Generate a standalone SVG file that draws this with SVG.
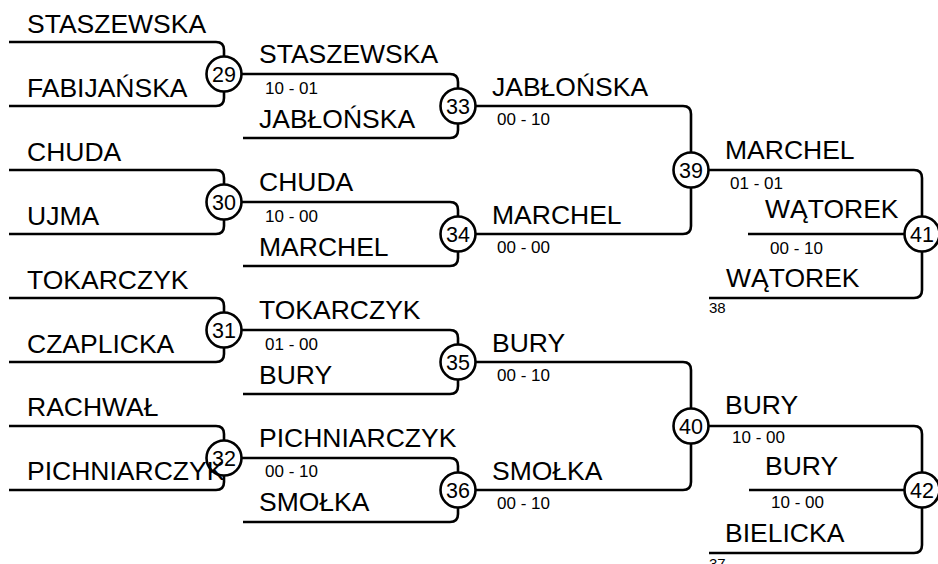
<svg xmlns="http://www.w3.org/2000/svg" width="938" height="564" viewBox="0 0 938 564">
<style>
.c{fill:none;stroke:#000;stroke-width:2.6;stroke-linejoin:round}
.m circle{fill:#fff;stroke:#000;stroke-width:2.6}
.m text{font-family:"Liberation Sans",Arial,sans-serif;font-size:21.5px;text-anchor:middle;fill:#000}
.n{font-family:"Liberation Sans",Arial,sans-serif;font-size:26.5px;fill:#000}
.s{font-family:"Liberation Sans",Arial,sans-serif;font-size:17px;fill:#000}
.t{font-family:"Liberation Sans",Arial,sans-serif;font-size:15px;fill:#000}
</style>
<rect width="938" height="564" fill="#fff"/>
<g id="connectors">
<path class="c" d="M9,42 H216 Q224,42 224,50 V98 Q224,106 216,106 H9"/>
<path class="c" d="M9,170 H216 Q224,170 224,178 V226 Q224,234 216,234 H9"/>
<path class="c" d="M9,298 H216 Q224,298 224,306 V354 Q224,362 216,362 H9"/>
<path class="c" d="M9,426 H216 Q224,426 224,434 V482 Q224,490 216,490 H9"/>
<path class="c" d="M224,74 H450 Q458,74 458,82 V130 Q458,138 450,138 H243"/>
<path class="c" d="M224,202 H450 Q458,202 458,210 V258 Q458,266 450,266 H243"/>
<path class="c" d="M224,330 H450 Q458,330 458,338 V386 Q458,394 450,394 H243"/>
<path class="c" d="M224,458 H450 Q458,458 458,466 V514 Q458,522 450,522 H243"/>
<path class="c" d="M458,106 H683 Q691,106 691,114 V226 Q691,234 683,234 H458"/>
<path class="c" d="M458,362 H683 Q691,362 691,370 V482 Q691,490 683,490 H458"/>
<path class="c" d="M691,170 H914 Q922,170 922,178 V290 Q922,298 914,298 H709"/>
<path class="c" d="M748,234 H922"/>
<path class="c" d="M691,426 H914 Q922,426 922,434 V545 Q922,553 914,553 H709"/>
<path class="c" d="M749,490 H922"/>
</g>
<g id="m29" class="m"><circle cx="224" cy="74" r="17.5"/><text x="224" y="81.5">29</text></g>
<g id="m30" class="m"><circle cx="224" cy="202" r="17.5"/><text x="224" y="209.5">30</text></g>
<g id="m31" class="m"><circle cx="224" cy="330" r="17.5"/><text x="224" y="337.5">31</text></g>
<g id="m32" class="m"><circle cx="224" cy="458" r="17.5"/><text x="224" y="465.5">32</text></g>
<g id="m33" class="m"><circle cx="458" cy="106" r="17.5"/><text x="458" y="113.5">33</text></g>
<g id="m34" class="m"><circle cx="458" cy="234" r="17.5"/><text x="458" y="241.5">34</text></g>
<g id="m35" class="m"><circle cx="458" cy="362" r="17.5"/><text x="458" y="369.5">35</text></g>
<g id="m36" class="m"><circle cx="458" cy="490" r="17.5"/><text x="458" y="497.5">36</text></g>
<g id="m39" class="m"><circle cx="691" cy="170" r="17.5"/><text x="691" y="177.5">39</text></g>
<g id="m40" class="m"><circle cx="691" cy="426" r="17.5"/><text x="691" y="433.5">40</text></g>
<g id="m41" class="m"><circle cx="922" cy="234" r="17.5"/><text x="922" y="241.5">41</text></g>
<g id="m42" class="m"><circle cx="922" cy="490" r="17.5"/><text x="922" y="497.5">42</text></g>
<g id="round1">
<text class="n" x="27" y="33">STASZEWSKA</text>
<text class="n" x="27" y="97">FABIJAŃSKA</text>
<text class="n" x="27" y="161">CHUDA</text>
<text class="n" x="27" y="225">UJMA</text>
<text class="n" x="27" y="289">TOKARCZYK</text>
<text class="n" x="27" y="353">CZAPLICKA</text>
<text class="n" x="27" y="416">RACHWAŁ</text>
<text class="n" x="27" y="480">PICHNIARCZYK</text>
</g>
<g id="round2">
<text class="n" x="259" y="63">STASZEWSKA</text>
<text class="s" x="265" y="94">10 - 01</text>
<text class="n" x="259" y="128">JABŁOŃSKA</text>
<text class="n" x="259" y="191">CHUDA</text>
<text class="s" x="265" y="222">10 - 00</text>
<text class="n" x="259" y="256">MARCHEL</text>
<text class="n" x="259" y="319">TOKARCZYK</text>
<text class="s" x="265" y="350">01 - 00</text>
<text class="n" x="259" y="384">BURY</text>
<text class="n" x="259" y="447">PICHNIARCZYK</text>
<text class="s" x="265" y="477">00 - 10</text>
<text class="n" x="259" y="511">SMOŁKA</text>
</g>
<g id="round3">
<text class="n" x="492" y="96">JABŁOŃSKA</text>
<text class="s" x="497" y="125">00 - 10</text>
<text class="n" x="492" y="224">MARCHEL</text>
<text class="s" x="497" y="253">00 - 00</text>
<text class="n" x="492" y="352">BURY</text>
<text class="s" x="497" y="381">00 - 10</text>
<text class="n" x="492" y="480">SMOŁKA</text>
<text class="s" x="497" y="509">00 - 10</text>
</g>
<g id="round4">
<text class="n" x="725" y="159">MARCHEL</text>
<text class="s" x="730" y="189">01 - 01</text>
<text class="n" x="765" y="218">WĄTOREK</text>
<text class="s" x="770" y="254">00 - 10</text>
<text class="n" x="726" y="287">WĄTOREK</text>
<text class="t" x="709" y="313">38</text>
<text class="n" x="725" y="414">BURY</text>
<text class="s" x="732" y="443">10 - 00</text>
<text class="n" x="765" y="475">BURY</text>
<text class="s" x="771" y="508">10 - 00</text>
<text class="n" x="725" y="542">BIELICKA</text>
<text class="t" x="709" y="569">37</text>
</g>
</svg>
